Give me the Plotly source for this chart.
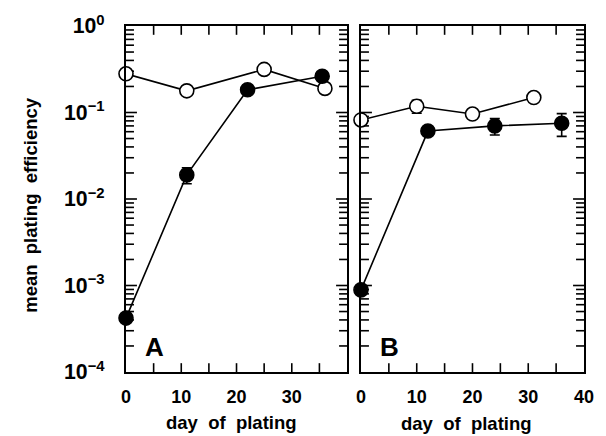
import plotly.graph_objects as go

# Panel A data
a_open_x = [0, 11, 25, 36]
a_open_y = [0.28, 0.178, 0.315, 0.19]
a_fill_x = [0, 11, 22, 35.5]
a_fill_y = [0.00042, 0.019, 0.183, 0.262]
a_fill_err = [0, 0.004, 0, 0]

# Panel B data
b_open_x = [0, 10, 20, 31]
b_open_y = [0.082, 0.118, 0.096, 0.149]
b_open_err = [0, 0.02, 0, 0]
b_fill_x = [0, 12, 24, 36]
b_fill_y = [0.00089, 0.061, 0.070, 0.075]
b_fill_err = [0, 0.006, 0.015, 0.022]

# axis ticks
x_range = [0, 40]
x_tick_vals = [5, 10, 15, 20, 25, 30, 35]
y_log_range = [-4, 0]
y_major_vals = [1e-3, 1e-2, 1e-1]
y_minor_vals = [k * 10 ** e for e in range(-4, 0) for k in range(2, 10)]

FONT = "Liberation Sans, Arial, sans-serif"
W, H = 606, 436
L, R, T, B = 126, 20, 19, 64
pw = W - L - R
ph = H - T - B
A_PX = 222
B_PX = pw - 236

fig = go.Figure()


def tick_trace(xa, ya, panel_px):
    """Inward tick marks on the four sides of a panel, in the panel's own axis units."""
    xs, ys = [], []
    dx_per_px = (x_range[1] - x_range[0]) / panel_px
    dlog_per_px = (y_log_range[1] - y_log_range[0]) / ph
    lo, hi = 10 ** y_log_range[0], 10 ** y_log_range[1]
    xlen = 9
    for v in x_tick_vals:
        xs += [v, v, None, v, v, None]
        ys += [lo, 10 ** (y_log_range[0] + xlen * dlog_per_px), None,
               hi, 10 ** (y_log_range[1] - xlen * dlog_per_px), None]
    for vals, ln in [(y_major_vals, 11), (y_minor_vals, 8)]:
        for v in vals:
            xs += [x_range[0], x_range[0] + ln * dx_per_px, None,
                   x_range[1], x_range[1] - ln * dx_per_px, None]
            ys += [v, v, None, v, v, None]
    fig.add_trace(go.Scatter(x=xs, y=ys, xaxis=xa, yaxis=ya, mode="lines",
                             line=dict(color="black", width=1.6), hoverinfo="skip",
                             showlegend=False))


tick_trace("x", "y", A_PX)
tick_trace("x2", "y2", B_PX)


def add(x, y, err, filled, xa, ya):
    fig.add_trace(go.Scatter(
        x=x, y=y, xaxis=xa, yaxis=ya, mode="lines+markers",
        line=dict(color="black", width=1.6),
        marker=dict(size=14, color="black" if filled else "white",
                    line=dict(color="black", width=1.6)),
        error_y=dict(type="data", array=err, visible=True, color="black",
                     thickness=1.6, width=5) if err else None,
        cliponaxis=False, showlegend=False))


add(a_open_x, a_open_y, None, False, "x", "y")
add(a_fill_x, a_fill_y, a_fill_err, True, "x", "y")
add(b_open_x, b_open_y, b_open_err, False, "x2", "y2")
add(b_fill_x, b_fill_y, b_fill_err, True, "x2", "y2")

CLEAR = "rgba(0,0,0,0)"


def xax(dom, anchor, alias):
    return dict(domain=dom, anchor=anchor, range=x_range, tickmode="linear", tick0=0, dtick=10,
                labelalias=alias, ticks="outside", ticklen=7, tickcolor=CLEAR,
                showline=True, linecolor="black", linewidth=2, mirror=True,
                showgrid=False, zeroline=False,
                tickfont=dict(family=FONT, size=18, color="black", weight="bold"))


def yax(anchor, labels):
    return dict(type="log", range=y_log_range, anchor=anchor, tickmode="linear", tick0=0, dtick=1,
                exponentformat="power", labelalias={"1": "10<sup>0</sup>"},
                showticklabels=labels, ticks="outside", ticklen=16, tickcolor=CLEAR,
                showline=True, linecolor="black", linewidth=2, mirror=True,
                showgrid=False, zeroline=False,
                tickfont=dict(family=FONT, size=17, color="black", weight="bold"))


fig.update_layout(
    width=W, height=H, margin=dict(l=L, r=R, t=T, b=B),
    paper_bgcolor="white", plot_bgcolor="white",
    xaxis=xax([0, A_PX / pw], "y", {"40": ""}),
    xaxis2=xax([236 / pw, 1], "y2", {}),
    yaxis=yax("x", True),
    yaxis2=yax("x2", False),
)

ann_font = dict(family=FONT, size=18.5, color="black", weight="bold")


def ann(text, x, y, **kw):
    fig.add_annotation(text=text, xref="paper", yref="paper", x=x, y=y, xanchor="center",
                       yanchor="middle", showarrow=False, **kw)


ann("day\u00a0\u00a0of\u00a0\u00a0plating", (232 - L) / pw, (372 - 424) / ph, font=ann_font)
ann("day\u00a0\u00a0of\u00a0\u00a0plating", (468 - L) / pw, (372 - 425) / ph, font=ann_font)
ann("mean\u00a0\u00a0plating\u00a0\u00a0efficiency", (30 - L) / pw, 1 - (201 - T) / ph,
    textangle=-90, font=ann_font)
big = dict(family=FONT, size=26, color="black", weight="bold")
ann("A", (155 - L) / pw, (372 - 346) / ph, font=big)
ann("B", (391 - L) / pw, (372 - 347) / ph, font=big)

fig.write_html("out.html")
